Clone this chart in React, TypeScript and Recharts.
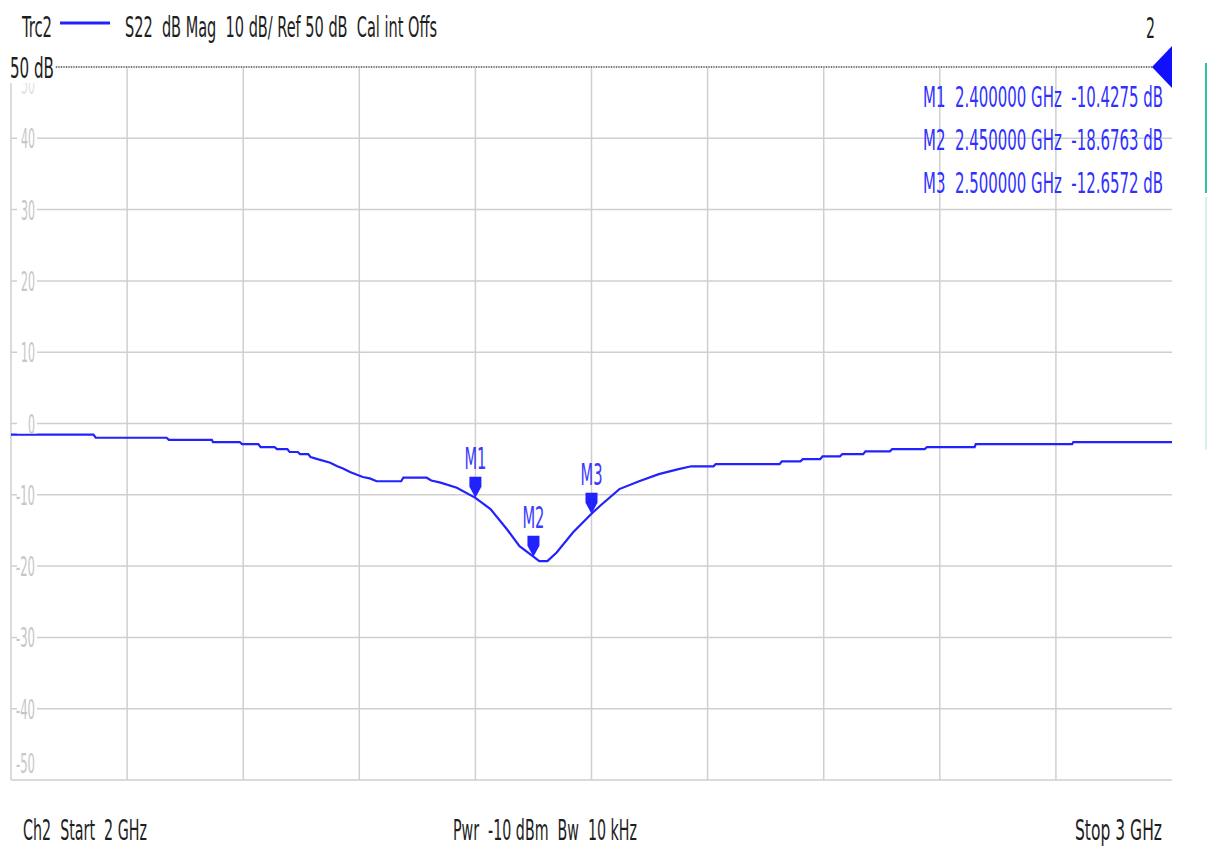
import React from 'react';
import {
  LineChart,
  Line,
  XAxis,
  YAxis,
  CartesianGrid,
  ReferenceLine,
  ReferenceDot,
} from 'recharts';

// sweep 2 GHz .. 3 GHz, S22 in dB
const freqGHz = [
  2.0, 2.071, 2.073, 2.134, 2.136, 2.173, 2.174, 2.197, 2.199, 2.213, 2.215, 2.227,
  2.229, 2.238, 2.24, 2.247, 2.249, 2.256, 2.258, 2.264, 2.275, 2.281, 2.286, 2.292,
  2.298, 2.303, 2.309, 2.315, 2.336, 2.338, 2.358, 2.362, 2.37, 2.384, 2.4, 2.413,
  2.427, 2.438, 2.45, 2.455, 2.462, 2.47, 2.484, 2.5, 2.507, 2.524, 2.541, 2.558,
  2.575, 2.586, 2.605, 2.607, 2.662, 2.664, 2.68, 2.682, 2.697, 2.699, 2.714, 2.716,
  2.734, 2.736, 2.757, 2.759, 2.787, 2.789, 2.83, 2.831, 2.914, 2.915, 3.0,
];
const s22dB = [
  -1.55, -1.55, -2.0, -2.0, -2.3, -2.3, -2.6, -2.6, -2.9, -2.9, -3.3, -3.3,
  -3.6, -3.6, -4.0, -4.0, -4.3, -4.3, -4.7, -5.0, -5.5, -6.0, -6.3, -6.8,
  -7.2, -7.5, -7.7, -8.1, -8.1, -7.6, -7.6, -8.0, -8.3, -9.0, -10.4275, -12.0,
  -14.8, -17.2, -18.6763, -19.3, -19.3, -18.1, -15.3, -12.6572, -11.6, -9.2, -8.1, -7.1,
  -6.4, -6.0, -6.0, -5.7, -5.7, -5.3, -5.3, -5.0, -5.0, -4.6, -4.6, -4.3,
  -4.3, -3.9, -3.9, -3.6, -3.6, -3.3, -3.3, -2.9, -2.9, -2.6, -2.6,
];

const markerNames = ['M1', 'M2', 'M3'];
const markerFreq = [2.4, 2.45, 2.5];
const markerVal = [-10.4275, -18.6763, -12.6572];

const xTicks = [2.0, 2.1, 2.2, 2.3, 2.4, 2.5, 2.6, 2.7, 2.8, 2.9];
const yTicks = [-50, -40, -30, -20, -10, 0, 10, 20, 30, 40, 50];
const refLevel = 50;

const data = freqGHz.map((f, i) => ({ f, v: s22dB[i] }));

const W = 1211;
const H = 859;
const PLOT_LEFT = 11;
const TRACE = '#2222ff';
const GRID = '#cfcfcf';
const FONT = "'Liberation Sans Narrow', 'DejaVu Sans Condensed', 'Liberation Sans', sans-serif";

const YTick = (props: any) => {
  const { y, payload } = props;
  const v = payload.value as number;
  const label = String(v);
  const len = label.length * 7 - (v < 0 ? 2 : 0);
  const common = {
    x: 35, textAnchor: 'end' as const, fontSize: 27, fontFamily: FONT,
    textLength: len, lengthAdjust: 'spacingAndGlyphs' as const,
  };
  if (v === 50) {
    // mostly hidden under the reference label
    return <text {...common} y={y + 27} fill="#e2e2e2">{label}</text>;
  }
  if (v === -50) {
    return <text {...common} y={y - 7} fill="#c8c8c8">{label}</text>;
  }
  return (
    <g>
      <rect x={PLOT_LEFT + 6} y={y - 10} width={20} height={20} fill="#fff" />
      <text {...common} y={y + 10} fill="#c6c6c6">{label}</text>
    </g>
  );
};

const markerShape = (name: string) => (props: any) => {
  const { cx, cy } = props;
  return (
    <g>
      <path d={`M${cx - 6},${cy - 21} L${cx + 6},${cy - 21} L${cx + 6},${cy - 11} L${cx},${cy} L${cx - 6},${cy - 11} Z`} fill={TRACE} />
      <text x={cx} y={cy - 29} textAnchor="middle" fontSize={31} fill="#3a3aff"
        fontFamily={FONT} textLength={22} lengthAdjust="spacingAndGlyphs">{name}</text>
    </g>
  );
};

const RefArrow = (props: any) => {
  const { cx, cy } = props;
  return <path d={`M${cx - 20},${cy} L${cx},${cy - 21} L${cx},${cy + 21} Z`} fill="#1010ff" />;
};

const txt = (x: number, y: number, s: string, len: number, color = '#1e1e1e', anchor = 'start') => (
  <text x={x} y={y} fontSize={29} fill={color} fontFamily={FONT} textAnchor={anchor as any}
    textLength={len} lengthAdjust="spacingAndGlyphs" xmlSpace="preserve" style={{ whiteSpace: 'pre' }}>{s}</text>
);

export default function App() {
  return (
    <div style={{ position: 'absolute', left: 0, top: 0, width: W, height: H, background: '#fff' }}>
      <LineChart width={W} height={H} data={data} margin={{ top: 67, right: 39, bottom: 78, left: PLOT_LEFT - 1 }}>
        <CartesianGrid stroke={GRID} strokeWidth={1.5} vertical={false} />
        <XAxis type="number" dataKey="f" domain={[2, 3]} ticks={xTicks} height={1}
          axisLine={false} tickLine={false} tick={false} />
        <YAxis type="number" domain={[-50, 50]} ticks={yTicks} width={1}
          axisLine={false} tickLine={false} tick={YTick} interval={0} />
        {xTicks.map((t) => (
          <ReferenceLine key={t} x={t} stroke={GRID} strokeWidth={1.5} />
        ))}
        <ReferenceLine y={refLevel} stroke="#555" strokeDasharray="1 1.5" strokeWidth={1.5} />
        <Line type="linear" dataKey="v" stroke={TRACE} strokeWidth={2.2} dot={false} isAnimationActive={false} />
        {markerNames.map((m, i) => (
          <ReferenceDot key={m} x={markerFreq[i]} y={markerVal[i]} shape={markerShape(m)} />
        ))}
        <ReferenceDot x={3} y={refLevel} shape={<RefArrow />} />
      </LineChart>
      <svg width={W} height={H} style={{ position: 'absolute', left: 0, top: 0, pointerEvents: 'none' }}>
        {txt(22, 37, 'Trc2', 30)}
        <line x1={60} y1={23} x2={110} y2={23} stroke={TRACE} strokeWidth={3} />
        {txt(125, 37, 'S22  dB Mag  10 dB/ Ref 50 dB  Cal int Offs', 312)}
        {txt(1146, 38, '2', 9)}
        <rect x={8} y={54} width={47} height={29} fill="#fff" />
        {txt(10, 78, '50 dB', 44)}
        {markerNames.map((m, i) => (
          <g key={m}>
            {txt(1163, 107 + i * 43, `${m}  ${markerFreq[i].toFixed(6)} GHz  ${markerVal[i].toFixed(4)} dB`, 240, '#3030ff', 'end')}
          </g>
        ))}
        <line x1={1206} y1={63} x2={1206} y2={193} stroke="#2cc4a0" strokeWidth={2} />
        <line x1={1206} y1={197} x2={1206} y2={450} stroke="#d6f1ea" strokeWidth={2} />
        {txt(23, 840, 'Ch2  Start  2 GHz', 124)}
        {txt(453, 840, 'Pwr  -10 dBm  Bw  10 kHz', 184)}
        {txt(1162, 840, 'Stop 3 GHz', 87, '#1e1e1e', 'end')}
      </svg>
    </div>
  );
}
